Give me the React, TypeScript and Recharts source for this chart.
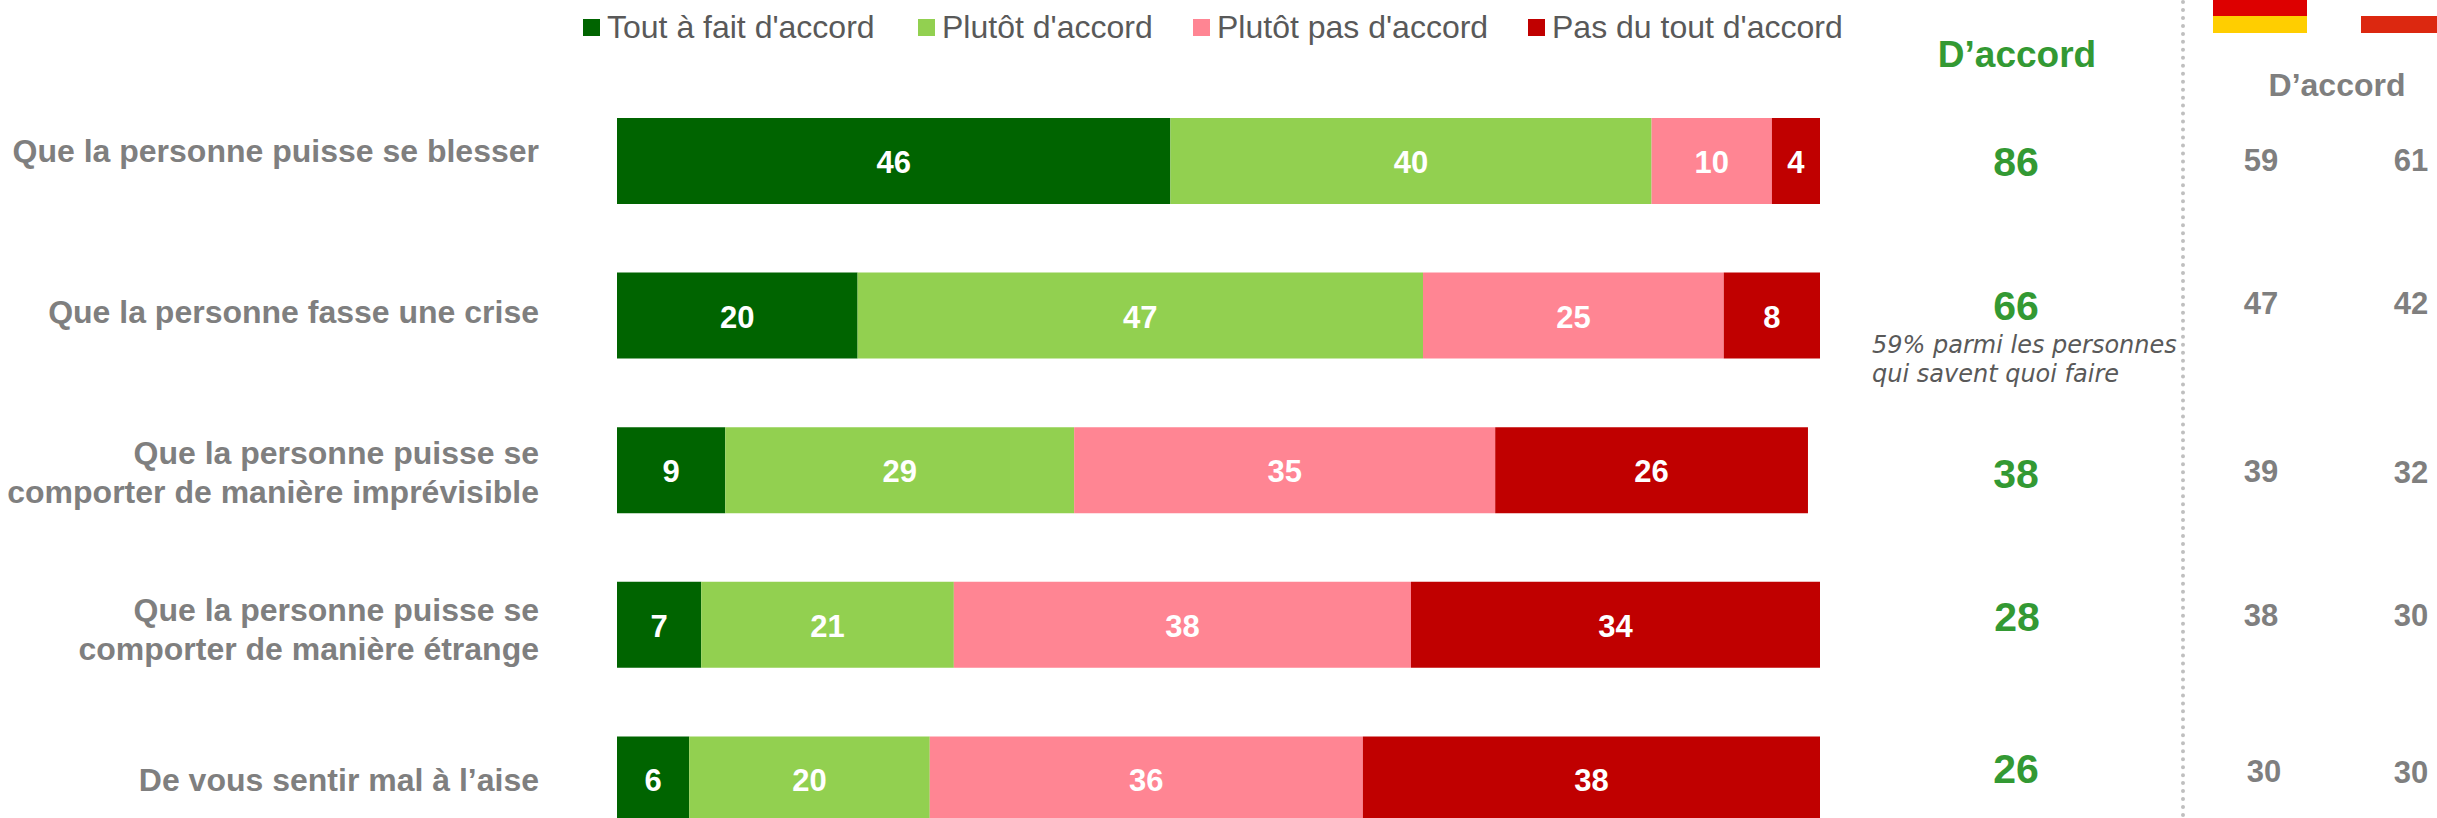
import { Bar, BarChart, LabelList, Legend, XAxis, YAxis } from 'recharts'

const categories = [
  'Que la personne puisse se blesser',
  'Que la personne fasse une crise',
  'Que la personne puisse se\ncomporter de manière imprévisible',
  'Que la personne puisse se\ncomporter de manière étrange',
  'De vous sentir mal à l’aise',
]
const fullyAgree = [46, 20, 9, 7, 6]
const ratherAgree = [40, 47, 29, 21, 20]
const ratherDisagree = [10, 25, 35, 38, 36]
const fullyDisagree = [4, 8, 26, 34, 38]
const agreeTotal = [86, 66, 38, 28, 26]
const germanyAgree = [59, 47, 39, 38, 30]
const polandAgree = [61, 42, 32, 30, 30]

const seriesNames = ['Tout à fait d\'accord', 'Plutôt d\'accord', 'Plutôt pas d\'accord', 'Pas du tout d\'accord']
const seriesKeys = ['fullyAgree', 'ratherAgree', 'ratherDisagree', 'fullyDisagree']
const seriesColors = ['#006400', '#92D050', '#FF8593', '#C00000']

const data = categories.map((name, i) => ({
  name,
  fullyAgree: fullyAgree[i],
  ratherAgree: ratherAgree[i],
  ratherDisagree: ratherDisagree[i],
  fullyDisagree: fullyDisagree[i],
}))

const FONT = '"Liberation Sans", Arial, sans-serif'

// layout of the text around the chart, the reference does not sit on the row centres
const labelShift = [-10, -4, 2, 4, 0]
const totalY = [162, 306, 474, 617, 769]
const totalX = [2016, 2016, 2016, 2017, 2016]
const germanyY = [160, 303, 471, 615, 771]
const germanyX = [2261, 2261, 2261, 2261, 2264]
const polandY = [160, 303, 472, 615, 772]
const legendX = [583, 918, 1193, 1528]

const CategoryTick = ({ y, payload, index }: any) => {
  const lines = String(payload.value).split('\n')
  const top = y + labelShift[index] - ((lines.length - 1) * 39) / 2
  return (
    <text textAnchor='end' fontFamily={FONT} fontSize={32} fontWeight={700} fill='#7F7F7F'>
      {lines.map((line, i) => (
        <tspan key={i} x={539} y={top + i * 39} dominantBaseline='central'>{line}</tspan>
      ))}
    </text>
  )
}

const LegendContent = ({ payload }: any) => (
  <div style={{ position: 'relative', width: 1300, height: 40, fontFamily: FONT, fontSize: 32, color: '#595959' }}>
    {(payload || []).map((item: any, i: number) => (
      <div key={item.value} style={{ position: 'absolute', left: legendX[i] - legendX[0], top: 0, lineHeight: '40px', whiteSpace: 'nowrap' }}>
        <span style={{ position: 'absolute', left: 0, top: 12, width: 17, height: 17, background: item.color }} />
        <span style={{ marginLeft: 24 }}>{item.value}</span>
      </div>
    ))}
  </div>
)

const Txt = ({ x, y, size, color, bold, children }: any) => (
  <div
    style={{
      position: 'absolute',
      left: x,
      top: y,
      transform: 'translate(-50%, -50%)',
      fontFamily: FONT,
      fontSize: size,
      fontWeight: bold ? 700 : 400,
      color,
      whiteSpace: 'nowrap',
      lineHeight: 1,
    }}
  >
    {children}
  </div>
)

const Block = ({ x, y, w, h, color }: any) => (
  <div style={{ position: 'absolute', left: x, top: y, width: w, height: h, background: color }} />
)

export default function App() {
  return (
    <div style={{ position: 'fixed', left: 0, top: 0, width: 2437, height: 818, overflow: 'hidden', background: '#fff' }}>
      <BarChart
        width={2437}
        height={860}
        data={data}
        layout='vertical'
        margin={{ top: 84, right: 617, bottom: 3, left: 0 }}
        barCategoryGap={68}
      >
        <XAxis type='number' domain={[0, 100]} hide />
        <YAxis type='category' dataKey='name' width={617} axisLine={false} tickLine={false} interval={0} tick={<CategoryTick />} />
        <Legend
          layout='horizontal'
          verticalAlign='middle'
          align='center'
          itemSorter={null}
          content={<LegendContent />}
          wrapperStyle={{ position: 'absolute', left: 583, top: 7, width: 1300, height: 40 }}
        />
        {seriesKeys.map((key, i) => (
          <Bar key={key} dataKey={key} name={seriesNames[i]} stackId='a' fill={seriesColors[i]} barSize={86} isAnimationActive={false}>
            <LabelList dataKey={key} position='center' fill='#fff' fontFamily={FONT} fontSize={31} fontWeight={700} dy={1} />
          </Bar>
        ))}
      </BarChart>

      <Txt x={2017} y={54} size={37} color='#339933' bold>D’accord</Txt>
      {agreeTotal.map((v, i) => (
        <Txt key={i} x={totalX[i]} y={totalY[i]} size={41} color='#339933' bold>{v}</Txt>
      ))}
      <div
        style={{
          position: 'absolute',
          left: 1872,
          top: 331,
          fontFamily: '"DejaVu Sans", sans-serif',
          fontStyle: 'italic',
          fontSize: 24,
          lineHeight: '29px',
          color: '#595959',
          whiteSpace: 'nowrap',
        }}
      >
        59% parmi les personnes<br />qui savent quoi faire
      </div>

      <div style={{ position: 'absolute', left: 2181, top: 0, height: 818, borderLeft: '4px dotted #BFBFBF' }} />

      <Block x={2213} y={0} w={94} h={16} color='#DD0000' />
      <Block x={2213} y={16} w={94} h={17} color='#FFCE00' />
      <Block x={2361} y={16} w={76} h={17} color='#DC2810' />

      <Txt x={2337} y={85} size={32} color='#7F7F7F' bold>D’accord</Txt>
      {germanyAgree.map((v, i) => (
        <Txt key={i} x={germanyX[i]} y={germanyY[i]} size={31} color='#7F7F7F' bold>{v}</Txt>
      ))}
      {polandAgree.map((v, i) => (
        <Txt key={i} x={2411} y={polandY[i]} size={31} color='#7F7F7F' bold>{v}</Txt>
      ))}
    </div>
  )
}
